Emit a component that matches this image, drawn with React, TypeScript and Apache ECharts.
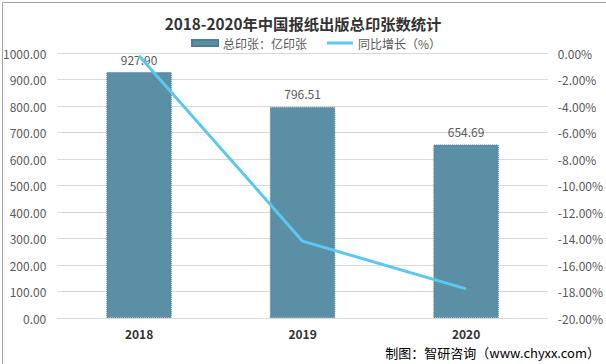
import React, { useEffect, useRef } from "react";
import * as echarts from "echarts";

const categories = ["2018", "2019", "2020"];
const printSheets = [927.9, 796.51, 654.69];
const yoyGrowth = [-0.2, -14.2, -17.8];
const titleText = "2018-2020年中国报纸出版总印张数统计";
const barName = "总印张：亿印张";
const lineName = "同比增长（%）";
const sourceText = "制图：智研咨询（www.chyxx.com）";

export default function App() {
  const ref = useRef<HTMLDivElement>(null);
  useEffect(() => {
    document.body.style.margin = "0";
    const chart = echarts.init(ref.current!, null, { renderer: "svg" });
    const font = "'Noto Sans CJK SC', 'Noto Sans', sans-serif";
    chart.setOption({
      animation: false,
      backgroundColor: "#fff",
      textStyle: { fontFamily: font },
      title: {
        text: titleText,
        left: "center",
        top: 10,
        textStyle: { fontSize: 15.3, fontWeight: "bold", color: "#333", fontFamily: font },
      },
      legend: {
        top: 32,
        left: 186,
        itemGap: 20,
        itemWidth: 26,
        itemHeight: 6,
        textStyle: { fontSize: 12, color: "#595959", fontFamily: font },
        data: [
          { name: barName, icon: "rect" },
          { name: lineName, icon: "path://M0,0 L26,0 L26,3 L0,3 Z" },
        ],
      },
      grid: { left: 53, right: 53, top: 53, bottom: 46 },
      xAxis: {
        type: "category",
        data: categories,
        axisLine: { show: true, lineStyle: { color: "#d9d9d9" } },
        axisTick: { show: false },
        axisLabel: { color: "#333", fontWeight: "bold", fontSize: 12, margin: 9 },
      },
      yAxis: [
        {
          type: "value",
          min: 0,
          max: 1000,
          interval: 100,
          axisLine: { show: false },
          axisTick: { show: false },
          splitLine: { lineStyle: { color: "#d9d9d9" } },
          axisLabel: {
            color: "#595959",
            fontSize: 12,
            margin: 11,
            formatter: (v: number) => v.toFixed(2),
          },
        },
        {
          type: "value",
          min: -20,
          max: 0,
          interval: 2,
          axisLine: { show: false },
          axisTick: { show: false },
          splitLine: { show: false },
          axisLabel: {
            color: "#595959",
            fontSize: 12,
            margin: 10,
            formatter: (v: number) => v.toFixed(2) + "%",
          },
        },
      ],
      series: [
        {
          name: barName,
          type: "bar",
          data: printSheets,
          barWidth: "40%",
          itemStyle: { color: "#5B8FA6", borderColor: "#4f7f95", borderWidth: 1, borderType: "dotted" },
          label: {
            show: true,
            position: "top",
            distance: 7,
            color: "#595959",
            fontSize: 12,
            formatter: (p: any) => Number(p.value).toFixed(2),
          },
        },
        {
          name: lineName,
          type: "line",
          yAxisIndex: 1,
          data: yoyGrowth,
          symbol: "none",
          lineStyle: { color: "#5BC8F2", width: 3 },
          itemStyle: { color: "#5BC8F2" },
        },
      ],
      graphic: [
        {
          type: "text",
          right: 6,
          bottom: 5,
          style: { text: sourceText, fontSize: 13, fill: "#000", fontFamily: font },
        },
        {
          type: "rect",
          left: 0,
          top: 0,
          shape: { x: 0.5, y: 0.5, width: 604, height: 362 },
          style: { fill: "none", stroke: "#a6a6a6", lineWidth: 1 },
          silent: true,
        },
      ],
    });
    return () => chart.dispose();
  }, []);
  return <div ref={ref} style={{ position: "absolute", left: 0, top: 0, width: 606, height: 364 }} />;
}
